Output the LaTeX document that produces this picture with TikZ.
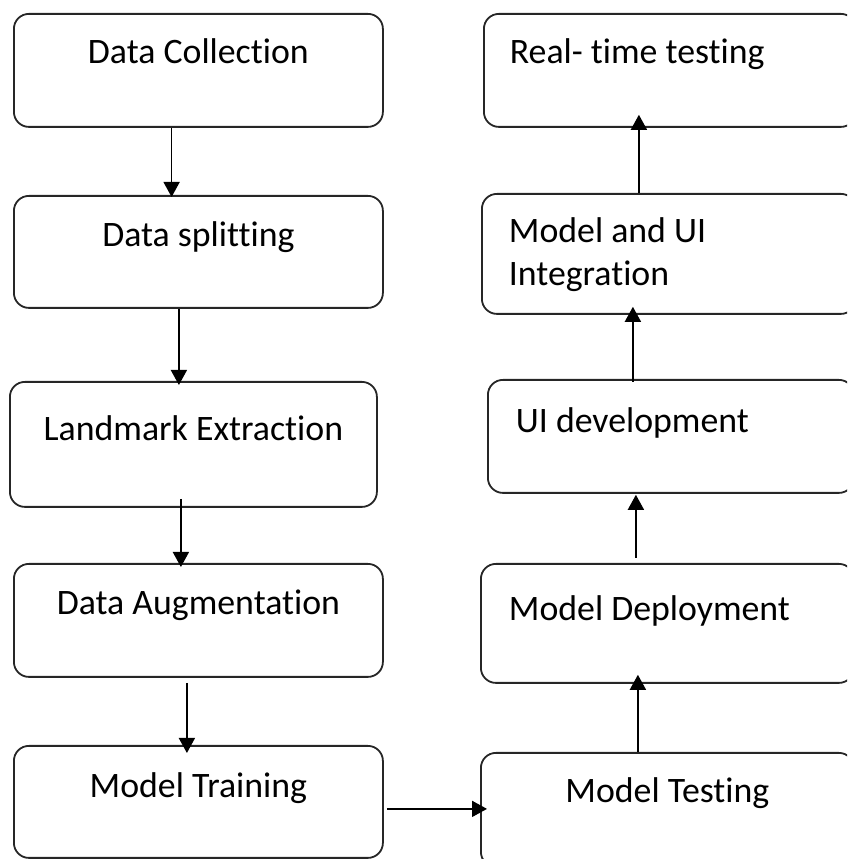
\documentclass[tikz,border=0pt]{standalone}
\usepackage{fontspec}
\setmainfont{Carlito}[Ligatures={NoCommon,NoRequired,NoContextual}]
\usetikzlibrary{arrows.meta}
\newcommand{\lefttext}[2]{\parbox[t]{#1}{\raggedright #2}}
\tikzset{
  box/.style={draw=black!85, line width=1.8pt, rounded corners=15pt, inner sep=0pt,
    anchor=north west, font=\fontsize{35.8}{43}\selectfont},
  arr/.style={line width=1.7pt, -{Triangle[width=16pt,length=15pt]}}
}
\begin{document}
\begin{tikzpicture}[x=1pt,y=1pt]
\useasboundingbox (0,0) rectangle (847,859);
\clip (0,0) rectangle (847,859);
% left column
\node[box, minimum width=369pt, text height=50pt, text depth=63pt] (dc) at (13,846) {Data Collection};
\node[box, minimum width=369pt, text height=51pt, text depth=61pt] (ds) at (13,664) {Data splitting};
\node[box, minimum width=367pt, text height=59pt, text depth=66pt] (le) at (9,478) {Landmark Extraction};
\node[box, minimum width=369pt, text height=51pt, text depth=62pt] (da) at (13,296) {Data Augmentation};
\node[box, minimum width=369pt, text height=52pt, text depth=60pt] (mt) at (13,114) {Model Training};
% right column
\node[box, inner xsep=26pt, text height=50pt, text depth=63pt] (rt) at (483,846) {\lefttext{320pt}{Real- time testing}};
\node[box, inner xsep=27pt, text height=49pt, text depth=71pt] (mi) at (481,666) {\lefttext{320pt}{Model and UI\\Integration}};
\node[box, inner xsep=28pt, text height=53pt, text depth=60pt] (ui) at (487,480) {\lefttext{310pt}{UI development}};
\node[box, inner xsep=28pt, text height=57pt, text depth=62pt] (md) at (480,296) {\lefttext{317pt}{Model Deployment}};
\node[box, minimum width=373pt, text height=50pt, text depth=64pt] (mtest) at (480,107) {Model Testing};
% connectors
\draw[arr] ([xshift=-26.8pt]dc.south) -- ([xshift=-26.8pt,yshift=-2pt]ds.north);
\draw[arr] ([xshift=-19.5pt]ds.south) -- ([xshift=-14.5pt,yshift=-4pt]le.north);
\draw[arr] ([xshift=-12.5pt,yshift=9pt]le.south) -- ([xshift=-17.5pt,yshift=-4pt]da.north);
\draw[arr] ([xshift=-11.5pt,yshift=-5pt]da.south) -- ([xshift=-11.5pt,yshift=-8pt]mt.north);
\draw[arr] ([xshift=3pt,yshift=-7pt]mt.east) -- ([xshift=7pt,yshift=1pt]mtest.west);
\draw[arr] ([xshift=-29.5pt]mtest.north) -- ([xshift=-29.5pt,yshift=9pt]md.south);
\draw[arr] ([xshift=-31.5pt,yshift=5pt]md.north) -- ([xshift=-35pt,yshift=-1pt]ui.south);
\draw[arr] ([xshift=-38pt,yshift=-3pt]ui.north) -- ([xshift=-36pt,yshift=8pt]mi.south);
\draw[arr] ([xshift=-30pt]mi.north) -- ([xshift=-31pt,yshift=13pt]rt.south);
\end{tikzpicture}
\end{document}
